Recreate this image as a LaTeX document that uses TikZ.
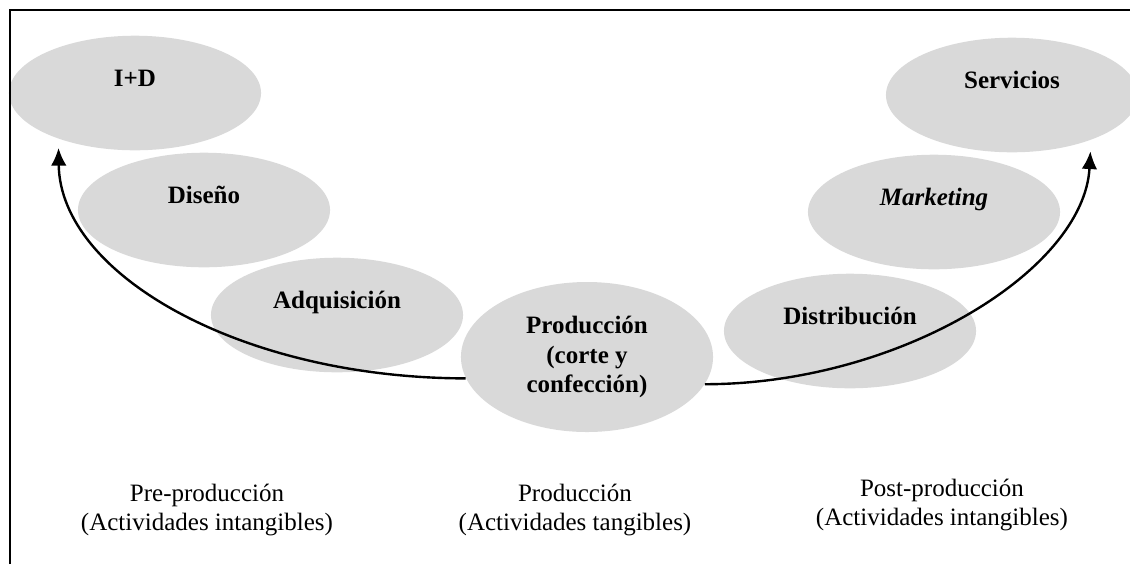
\documentclass[tikz,border=0pt]{standalone}
\usepackage{fontspec}
\setmainfont{Liberation Serif}
\usetikzlibrary{shapes.geometric}
\usetikzlibrary{arrows.meta}
\definecolor{cloudgray}{RGB}{217,217,217}
\tikzset{phase/.style = {ellipse, fill=cloudgray, inner sep=0, minimum width=121pt,
                         minimum height=55pt, align=center,
                         font=\fontsize{12}{14.2}\selectfont\bfseries}}
\tikzset{stage/.style = {align=center, font=\fontsize{12}{14.2}\selectfont}}
\tikzset{flow/.style = {-{Latex[length=8.5pt, width=7.5pt]}, line width=1.15pt}}

\begin{document}
\begin{tikzpicture}[x=0.48pt, y=-0.48pt]
      \useasboundingbox (0,0) rectangle (1130,564);
      \node [phase] (id) at (135,93) {I+D\\\mbox{}};
      \node [phase] (dis) at (204,210) {Diseño\\\mbox{}};
      \node [phase] (adq) at (337,315) {Adquisición\\\mbox{}};
      \node [phase, minimum height=72pt] (prod) at (587,357) {Producción\\(corte y\\confección)};
      \node [phase] (dist) at (850,331) {Distribución\\\mbox{}};
      \node [phase] (mkt) at (934,212) {\itshape Marketing\\\mbox{}};
      \node [phase] (serv) at (1012,95) {Servicios\\\mbox{}};
      \node [stage] (pre) at (207,510) {Pre-producción\\(Actividades intangibles)};
      \node [stage] (mid) at (575,510) {Producción\\(Actividades tangibles)};
      \node [stage] (post) at (942,505) {Post-producción\\(Actividades intangibles)};
      \draw [line width=1.1pt] (10,564) -- (10,10) -- (1130,10);
      \draw [flow] (prod.190) .. controls (242,378) and (60,275) .. ([yshift=-4.3pt]id.211);
      \draw [flow] (prod.-13) .. controls (900,384) and (1084,270) .. ([yshift=-5.3pt]serv.-30);
    \end{tikzpicture}
\end{document}
